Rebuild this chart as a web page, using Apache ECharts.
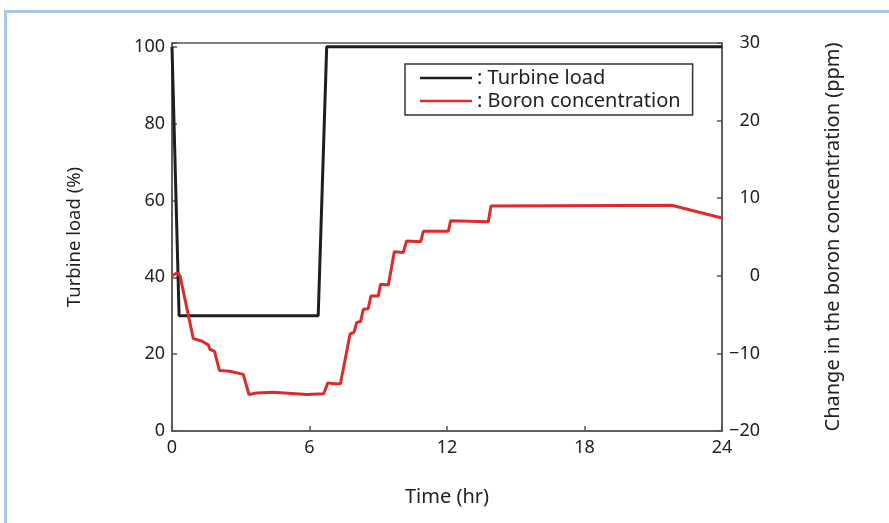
<!DOCTYPE html>
<html>
<head>
<meta charset="utf-8">
<script src="https://cdn.jsdelivr.net/npm/echarts@6/dist/echarts.min.js"></script>
<style>
html, body { margin: 0; padding: 0; background: #fff; }
#frame { position: absolute; left: 4px; top: 10px; width: 900px; height: 600px;
         border-top: 3px solid #a3c8ec; border-left: 3px solid #a3c8ec; }
#app { position: absolute; left: 0; top: 0; width: 889px; height: 523px; }
</style>
</head>
<body>
<div id="frame"></div>
<div id="app"></div>
<script>
// turbine load (%) vs time (hr)
var loadTime = [0, 0.31, 6.38, 6.75, 24];
var loadValue = [100, 30, 30, 100, 100];

// change in boron concentration (ppm) vs time (hr)
var boronTime = [0, 0.23, 0.35, 0.93, 1.3, 1.58, 1.66, 1.85, 2.07, 2.53, 3.11, 3.36, 3.69, 4.42, 5.88, 6.62,
    6.8, 7.04, 7.35, 7.77, 7.94, 8.06, 8.23, 8.35, 8.56, 8.68, 9.0, 9.1, 9.44, 9.7, 10.09, 10.24, 10.85,
    10.97, 12.06, 12.16, 13.8, 13.92, 21.8, 24];
var boronValue = [0, 0.4, 0, -8.1, -8.4, -8.9, -9.5, -9.7, -12.2, -12.3, -12.7, -15.3, -15.1, -15.0, -15.3, -15.2,
    -13.8, -13.9, -13.9, -7.5, -7.3, -6.0, -5.9, -4.3, -4.25, -2.6, -2.6, -1.1, -1.2, 3.1, 3.0, 4.5, 4.4,
    5.75, 5.75, 7.1, 6.95, 9.0, 9.1, 7.45];

var seriesNames = ['Turbine load', 'Boron concentration'];

function pairs(xs, ys) {
    return xs.map(function (x, i) { return [x, ys[i]]; });
}

var font = 'Noto Sans';
var axisColor = '#555';

var option = {
    animation: false,
    textStyle: { fontFamily: font, color: '#222' },
    grid: {
        left: 172, right: 167, top: 43, bottom: 92,
        show: true, borderColor: axisColor, borderWidth: 1.5
    },
    legend: {
        left: 405, top: 64,
        orient: 'vertical',
        icon: 'rect',
        itemWidth: 52, itemHeight: 2.5, itemGap: 3,
        padding: [4, 12, 4, 15],
        borderColor: '#333', borderWidth: 1.5,
        textStyle: { fontFamily: font, fontSize: 20, color: '#222' },
        formatter: ': {name}',
        data: seriesNames
    },
    xAxis: {
        type: 'value',
        min: 0, max: 24, interval: 6,
        name: 'Time (hr)', nameLocation: 'middle', nameGap: 56,
        nameTextStyle: { fontSize: 20, color: '#222' },
        axisLine: { lineStyle: { color: axisColor, width: 1.5 } },
        axisTick: { inside: true, length: 5, lineStyle: { color: axisColor, width: 1.5 } },
        axisLabel: { fontSize: 18, color: '#222', margin: 8 },
        splitLine: { show: false }
    },
    yAxis: [{
        type: 'value',
        min: 0, max: 101, interval: 20,
        name: 'Turbine load (%)', nameLocation: 'middle', nameGap: 88,
        nameTextStyle: { fontSize: 18.5, color: '#222' },
        axisLine: { lineStyle: { color: axisColor, width: 1.5 } },
        axisTick: { inside: true, length: 5, lineStyle: { color: axisColor, width: 1.5 } },
        axisLabel: {
            fontSize: 18, color: '#222', margin: 7,
            formatter: function (v) { return v % 20 === 0 ? String(v) : ''; }
        },
        splitLine: { show: false }
    }, {
        type: 'value',
        position: 'right',
        min: -20, max: 30, interval: 10,
        name: 'Change in the boron concentration (ppm)', nameLocation: 'middle', nameGap: 101,
        nameTextStyle: { fontSize: 20, color: '#222' },
        axisLine: { show: true, lineStyle: { color: axisColor, width: 1.5 } },
        axisTick: { inside: true, length: 5, lineStyle: { color: axisColor, width: 1.5 } },
        axisLabel: {
            fontSize: 18, color: '#222', margin: 38, align: 'right',
            formatter: function (v) { return String(v).replace('-', '\u2212'); }
        },
        splitLine: { show: false }
    }],
    series: [{
        name: seriesNames[0],
        type: 'line',
        yAxisIndex: 0,
        symbol: 'none',
        lineStyle: { color: '#1e1e1e', width: 3 },
        itemStyle: { color: '#1e1e1e' },
        data: pairs(loadTime, loadValue)
    }, {
        name: seriesNames[1],
        type: 'line',
        yAxisIndex: 1,
        symbol: 'none',
        lineStyle: { color: '#dd2a2a', width: 3 },
        itemStyle: { color: '#dd2a2a' },
        data: pairs(boronTime, boronValue)
    }]
};

var myChart = echarts.init(document.getElementById('app'));
myChart.setOption(option);
</script>
</body>
</html>
